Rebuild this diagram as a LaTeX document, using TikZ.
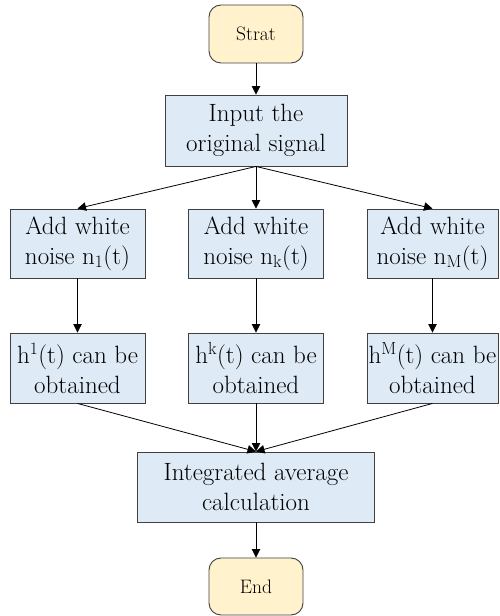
\documentclass[tikz,border=0pt]{standalone}
\usetikzlibrary{arrows.meta}
\definecolor{procfill}{RGB}{222,234,246}
\definecolor{termfill}{RGB}{255,242,204}
\definecolor{edgegray}{RGB}{64,64,64}
\tikzset{
  procbox/.style={draw=edgegray, line width=0.9pt, fill=procfill, align=center,
    inner sep=0pt, font=\rmfamily\fontsize{25}{30}\selectfont},
  termbox/.style={draw=edgegray, line width=0.9pt, fill=termfill, rounded corners=12pt,
    align=center, inner sep=0pt, minimum width=94pt, font=\rmfamily\fontsize{19.5}{22}\selectfont},
  flow/.style={draw=black, line width=0.8pt, -{Triangle[length=8.5pt,width=8.5pt]}}
}
\begin{document}
\begin{tikzpicture}[x=1pt,y=1pt]
\useasboundingbox (0,0) rectangle (499,616);
% terminals
\node[termbox, minimum height=58pt] (start) at (256,582) {Strat};
\node[termbox, minimum height=57pt] (stop) at (256,29.5) {End};
% process steps
\node[procbox, minimum width=182pt, minimum height=71pt] (input) at (256,485.5) {Input the\\original signal};
\node[procbox, minimum width=135pt, minimum height=69pt] (n1) at (77.5,372.5) {Add white\\noise n\textsubscript{1}(t)};
\node[procbox, minimum width=135pt, minimum height=69pt] (nk) at (256,372.5) {Add white\\noise n\textsubscript{k}(t)};
\node[procbox, minimum width=131pt, minimum height=69pt] (nM) at (432.5,372.5) {Add white\\noise n\textsubscript{M}(t)};
\node[procbox, minimum width=135pt, minimum height=70pt] (h1) at (77.5,248) {h\textsuperscript{1}(t) can be\\obtained};
\node[procbox, minimum width=135pt, minimum height=70pt] (hk) at (256,248) {h\textsuperscript{k}(t) can be\\obtained};
\node[procbox, minimum width=131pt, minimum height=70pt] (hM) at (432.5,248) {h\textsuperscript{M}(t) can be\\obtained};
\node[procbox, minimum width=237pt, minimum height=70pt] (avg) at (256,129) {Integrated average\\calculation};
% connectors
\draw[flow] (start) -- (input);
\draw[flow] (input.south) -- (n1.north);
\draw[flow] (input.south) -- (nk.north);
\draw[flow] (input.south) -- (nM.north);
\draw[flow] (n1) -- (h1);
\draw[flow] (nk) -- (hk);
\draw[flow] (nM) -- (hM);
\draw[flow] (h1.south) -- (avg.north);
\draw[flow] (hk.south) -- (avg.north);
\draw[flow] (hM.south) -- (avg.north);
\draw[flow] (avg) -- (stop);
\end{tikzpicture}
\end{document}
